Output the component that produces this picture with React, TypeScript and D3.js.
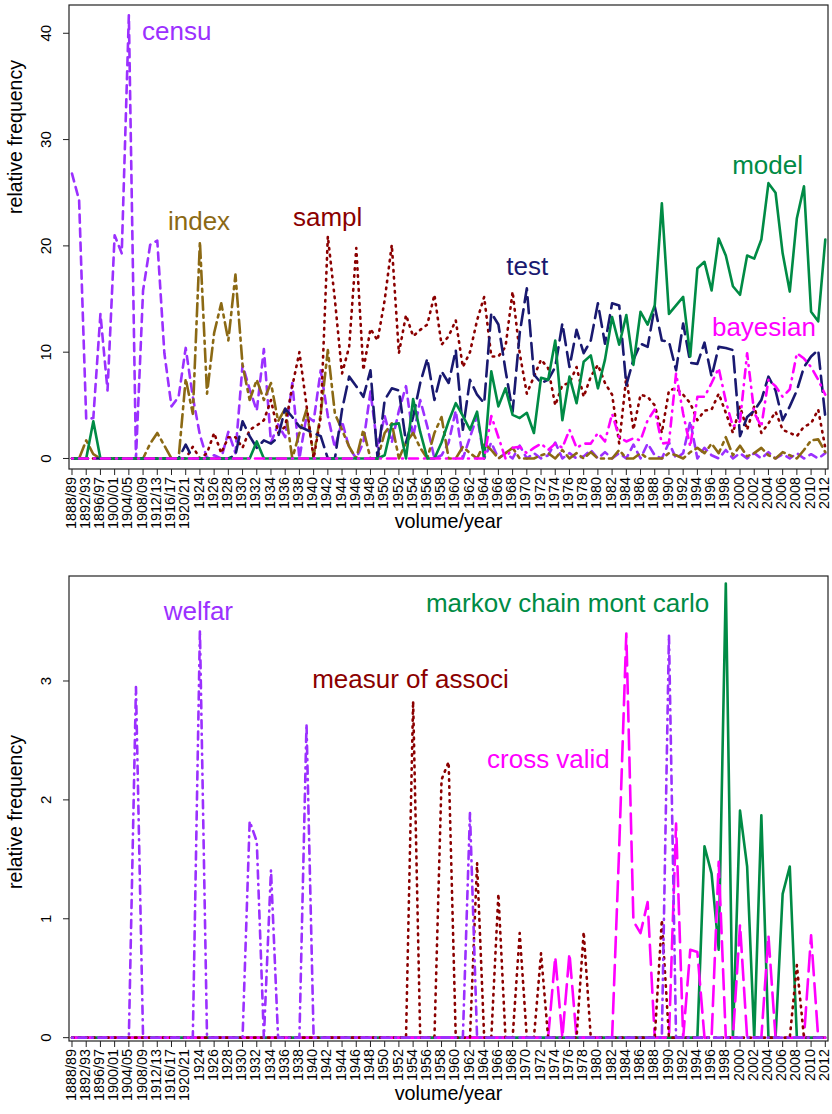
import React from "react";
import * as d3 from "d3";

// volume / year categories (x axis)
const volumes = [
  "1888/89", "1890/91", "1892/93", "1894/95", "1896/97", "1898/99", "1900/01", "1902/03", "1904/05", "1906/07",
  "1908/09", "1910/11", "1912/13", "1914/15", "1916/17", "1918/19", "1920/21", "1922/23", "1924", "1925",
  "1926", "1927", "1928", "1929", "1930", "1931", "1932", "1933", "1934", "1935",
  "1936", "1937", "1938", "1939", "1940", "1941", "1942", "1943", "1944", "1945",
  "1946", "1947", "1948", "1949", "1950", "1951", "1952", "1953", "1954", "1955",
  "1956", "1957", "1958", "1959", "1960", "1961", "1962", "1963", "1964", "1965",
  "1966", "1967", "1968", "1969", "1970", "1971", "1972", "1973", "1974", "1975",
  "1976", "1977", "1978", "1979", "1980", "1981", "1982", "1983", "1984", "1985",
  "1986", "1987", "1988", "1989", "1990", "1991", "1992", "1993", "1994", "1995",
  "1996", "1997", "1998", "1999", "2000", "2001", "2002", "2003", "2004", "2005",
  "2006", "2007", "2008", "2009", "2010", "2011", "2012",
];

// top panel
const censu = [
  26.8, 24.3, 3.7, 3.8, 13.6, 6.4, 21.0, 19.3, 41.7, 0,
  15.8, 20.1, 20.5, 9.9, 4.9, 5.8, 10.4, 5.8, 2.2, 0,
  0.3, 0, 2.5, 0.5, 8.8, 6.5, 4.5, 10.3, 1.5, 3.2,
  2.0, 7.1, 0, 4.0, 3.5, 8.3, 4.0, 1.0, 3.5, 1.0,
  0, 1.5, 6.3, 1.0, 4.0, 1.5, 4.5, 6.8, 2.0, 5.5,
  3.0, 0, 0.3, 1.5, 4.5, 0, 2.0, 4.0, 0, 1.5,
  0, 0.5, 0, 1.2, 0, 0.5, 0, 0.3, 1.5, 0,
  0.5, 0, 0.2, 0.8, 0, 0.6, 0, 0.5, 0, 1.3,
  0, 1.4, 0.3, 0, 1.5, 0, 0.5, 3.5, 0, 1.0,
  0.3, 0, 0.8, 0, 0.5, 0, 0.5, 0, 0.6, 0,
  0.4, 0, 0.5, 0, 0.4, 0, 0.5,
];
const index = [
  0, 0, 1.7, 0.4, 0, 0, 0, 0, 0, 0,
  0, 1.4, 2.4, 1.2, 0, 0, 7.5, 4.2, 20.4, 6.1,
  11.8, 14.6, 11.1, 17.3, 8.8, 5.5, 7.4, 5.5, 7.1, 3.5,
  4.7, 0, 2.4, 4.6, 0.2, 4.2, 10.2, 4.2, 2.7, 1.1,
  0, 2.7, 0, 0, 2.4, 3.3, 0, 1.5, 2.4, 1.0,
  0, 2.4, 3.9, 0, 0, 1.1, 0.5, 0, 1.4, 0.8,
  0, 0.5, 1.0, 0, 0, 0, 0.3, 0.5, 0, 0.8,
  0, 0.5, 0, 0.6, 0, 0, 0, 0.8, 0, 0,
  0.5, 0, 0, 0, 0.5, 0.3, 0, 0.6, 1.0, 0.5,
  1.4, 0.5, 2.0, 0.3, 1.2, 0.2, 0.5, 1.0, 0.3, 0,
  0.6, 0.3, 0, 0.8, 1.7, 1.8, 0.6,
];
const sampl = [
  0, 0, 0, 0, 0, 0, 0, 0, 0, 0,
  0, 0, 0, 0, 0, 0, 0, 1.1, 0, 0.5,
  2.4, 0.5, 2.0, 2.0, 1.0, 2.7, 3.1, 3.6, 5.5, 2.4,
  3.0, 6.8, 10.0, 5.0, 0, 3.9, 20.9, 14.9, 8.0, 10.5,
  19.8, 8.3, 12.2, 11.1, 14.9, 20.1, 9.9, 13.5, 11.5, 12.1,
  12.6, 15.4, 10.7, 11.5, 13.0, 8.6, 10.0, 13.0, 15.2, 9.6,
  9.6, 10.5, 15.7, 9.9, 6.1, 7.7, 9.3, 8.5, 5.0, 6.9,
  7.1, 8.6, 5.8, 7.7, 8.8, 7.1, 6.0, 1.4, 7.7, 2.7,
  6.0, 5.8, 5.0, 2.4, 6.4, 6.6, 6.0, 5.2, 3.6, 4.5,
  4.6, 6.1, 4.3, 2.4, 4.9, 2.7, 4.9, 2.4, 3.3, 4.4,
  2.7, 2.4, 2.1, 3.0, 3.3, 4.6, 1.0,
];
const test = [
  0, 0, 0, 0, 0, 0, 0, 0, 0, 0,
  0, 0, 0, 0, 0, 0, 1.3, 0, 0, 0,
  0, 0, 0, 0.3, 3.5, 2.1, 1.0, 1.7, 1.4, 2.0,
  4.7, 3.9, 3.0, 2.7, 2.4, 2.1, 0, 0, 4.6, 7.7,
  6.8, 5.8, 8.3, 0, 5.5, 6.6, 6.4, 1.5, 3.9, 7.1,
  9.4, 5.5, 8.2, 7.1, 10.2, 2.7, 7.4, 6.0, 5.2, 13.7,
  12.6, 8.3, 4.4, 11.8, 16.0, 7.9, 7.1, 7.4, 8.6, 12.7,
  8.6, 12.1, 9.9, 11.1, 14.6, 10.8, 14.6, 14.4, 6.9, 9.3,
  10.8, 10.5, 14.3, 11.1, 11.0, 8.3, 12.7, 9.0, 8.9, 10.9,
  7.7, 10.5, 10.4, 10.2, 2.1, 3.9, 4.5, 5.5, 7.7, 6.4,
  3.6, 4.9, 6.4, 8.6, 9.6, 10.2, 3.9,
];
const model = [
  0, 0, 0, 3.5, 0, 0, 0, 0, 0, 0,
  0, 0, 0, 0, 0, 0, 0, 0, 0, 0,
  0, 0, 0, 0, 0, 0, 1.6, 0, 0, 0,
  0, 0, 0, 0, 0, 0, 0, 0, 0, 0,
  0, 0, 0, 0, 0.3, 3.2, 3.3, 0, 5.6, 2.5,
  0, 0, 1.5, 3.5, 5.2, 4.0, 2.7, 4.4, 0, 8.2,
  4.9, 6.6, 4.1, 3.8, 4.3, 2.4, 7.6, 7.4, 11.1, 3.6,
  7.7, 5.2, 9.1, 9.7, 6.6, 9.3, 13.3, 10.7, 13.5, 8.8,
  13.8, 12.6, 14.4, 24.0, 13.6, 14.4, 15.2, 9.6, 17.9, 18.5,
  15.8, 20.7, 19.1, 16.2, 15.4, 19.1, 18.8, 20.6, 25.9, 25.0,
  19.3, 15.7, 22.6, 25.6, 13.8, 12.9, 20.6,
];
const bayesian = [
  0, 0, 0, 0, 0, 0, 0, 0, 0, 0,
  0, 0, 0, 0, 0, 0, 0, 0, 0, 0,
  0, 0, 0, 0, 0, 0, 0, 0, 0, 0,
  0, 0, 0, 0, 0, 0, 0, 0, 0, 0,
  0, 0, 0, 0, 0, 0, 0, 0, 0, 0,
  0, 0, 0, 0, 0, 0, 0, 0, 0, 4.0,
  2.0, 0, 1.0, 1.1, 0.5, 1.0, 1.4, 0.8, 1.4, 1.0,
  2.7, 1.0, 1.4, 1.4, 2.4, 1.6, 4.2, 2.0, 1.6, 1.9,
  1.7, 3.6, 4.6, 1.4, 1.5, 8.0, 4.2, 1.1, 5.8, 5.8,
  7.1, 8.5, 5.4, 3.0, 3.5, 9.9, 4.3, 3.0, 7.4, 6.8,
  5.8, 6.5, 9.9, 9.4, 8.6, 7.4, 6.0,
];

// bottom panel
const welfar = [
  0, 0, 0, 0, 0, 0, 0, 0, 0, 2.95,
  0, 0, 0, 0, 0, 0, 0, 0, 3.43, 0,
  0, 0, 0, 0, 0, 1.82, 1.65, 0, 1.41, 0,
  0, 0, 0, 2.64, 0, 0, 0, 0, 0, 0,
  0, 0, 0, 0, 0, 0, 0, 0, 0, 0,
  0, 0, 0, 0, 0, 0, 1.89, 0, 0, 0,
  0, 0, 0, 0, 0, 0, 0, 0, 0, 0,
  0, 0, 0, 0, 0, 0, 0, 0, 0, 0,
  0, 0, 0, 0, 3.39, 0, 0, 0, 0, 0,
  0, 0, 0, 0, 0, 0, 0, 0, 0, 0,
  0, 0, 0, 0, 0, 0, 0,
];
const measurOfAssoci = [
  0, 0, 0, 0, 0, 0, 0, 0, 0, 0,
  0, 0, 0, 0, 0, 0, 0, 0, 0, 0,
  0, 0, 0, 0, 0, 0, 0, 0, 0, 0,
  0, 0, 0, 0, 0, 0, 0, 0, 0, 0,
  0, 0, 0, 0, 0, 0, 0, 0, 2.83, 0,
  0, 0, 2.17, 2.32, 0, 0, 0, 1.47, 0, 0,
  1.21, 0, 0, 0.88, 0, 0, 0.71, 0, 0, 0,
  0, 0, 0.89, 0, 0, 0, 0, 0, 0, 0,
  0, 0, 0, 0.99, 0, 0, 0, 0, 0, 0,
  0, 0, 0, 0, 0, 0, 0, 0, 0, 0,
  0, 0, 0.61, 0, 0, 0, 0,
];
const crossValid = [
  0, 0, 0, 0, 0, 0, 0, 0, 0, 0,
  0, 0, 0, 0, 0, 0, 0, 0, 0, 0,
  0, 0, 0, 0, 0, 0, 0, 0, 0, 0,
  0, 0, 0, 0, 0, 0, 0, 0, 0, 0,
  0, 0, 0, 0, 0, 0, 0, 0, 0, 0,
  0, 0, 0, 0, 0, 0, 0, 0, 0, 0,
  0, 0, 0, 0, 0, 0, 0, 0, 0.68, 0,
  0.71, 0, 0, 0, 0, 0, 0, 1.6, 3.40, 0.98,
  0.88, 1.14, 0, 0, 0, 1.8, 0, 0.74, 0.72, 0,
  0, 1.48, 0, 0, 0.95, 0, 0, 0, 0.86, 0,
  0, 0, 0, 0, 0.86, 0, 0,
];
const markovChainMontCarlo = [
  0, 0, 0, 0, 0, 0, 0, 0, 0, 0,
  0, 0, 0, 0, 0, 0, 0, 0, 0, 0,
  0, 0, 0, 0, 0, 0, 0, 0, 0, 0,
  0, 0, 0, 0, 0, 0, 0, 0, 0, 0,
  0, 0, 0, 0, 0, 0, 0, 0, 0, 0,
  0, 0, 0, 0, 0, 0, 0, 0, 0, 0,
  0, 0, 0, 0, 0, 0, 0, 0, 0, 0,
  0, 0, 0, 0, 0, 0, 0, 0, 0, 0,
  0, 0, 0, 0, 0, 0, 0, 0, 0, 1.61,
  1.38, 0.74, 3.82, 0, 1.91, 1.44, 0, 1.87, 0, 0,
  1.21, 1.44, 0, 0, 0, 0, 0,
];

const topTicks = [0, 10, 20, 30, 40];
const bottomTicks = [0, 1, 2, 3];

const FONT = "'Liberation Sans', Arial, Helvetica, sans-serif";

// line styles (R-like lty at lwd ~2.6, round caps)
const topSeries = [
  { name: "censu", values: censu, color: "#9B30FF", dash: "8,6", label: [9.85, 39.4] },
  { name: "index", values: index, color: "#8B6914", dash: "3,5,13,5", label: [13.5, 21.5] },
  { name: "sampl", values: sampl, color: "#8B0000", dash: "1.5,5.5", label: [31.1, 21.9] },
  { name: "test", values: test, color: "#191970", dash: "16,7", label: [61.1, 17.3] },
  { name: "model", values: model, color: "#008B45", dash: null, label: [92.9, 26.8] },
  { name: "bayesian", values: bayesian, color: "#FF00FF", dash: "1,6,9,6", label: [90.05, 11.5] },
];
const bottomSeries = [
  { name: "markov chain mont carlo", values: markovChainMontCarlo, color: "#008B45", dash: null, label: [49.8, 3.58] },
  { name: "cross valid", values: crossValid, color: "#FF00FF", dash: "20,8", label: [58.4, 2.27] },
  { name: "measur of associ", values: measurOfAssoci, color: "#8B0000", dash: "1.5,5.5", label: [33.8, 2.94] },
  { name: "welfar", values: welfar, color: "#9B30FF", dash: "1,5.5,8,5.5", label: [12.9, 3.51] },
];

function Panel({ top, bottom, yDomain, yTicks, series, yTitleY }) {
  const x = d3.scaleLinear().domain([-0.422, 106.38]).range([69, 828]);
  const y = d3.scaleLinear().domain(yDomain).range([bottom, top]);
  const line = d3
    .line<number>()
    .x((_, i) => x(i))
    .y((d) => y(d));

  return (
    <g>
      {series.map((s) => (
        <path
          key={s.name}
          d={line(s.values) || ""}
          fill="none"
          stroke={s.color}
          strokeWidth={2.6}
          strokeDasharray={s.dash || undefined}
          strokeLinecap="round"
          strokeLinejoin="round"
        />
      ))}
      {series.map((s) => (
        <text key={s.name + "-lab"} x={x(s.label[0])} y={y(s.label[1])} fill={s.color} fontSize={26}>
          {s.name}
        </text>
      ))}
      <rect x={69} y={top} width={759} height={bottom - top} fill="none" stroke="#222" strokeWidth={1.2} />

      {/* y axis */}
      {yTicks.map((t) => (
        <g key={t}>
          <line x1={63} x2={69} y1={y(t)} y2={y(t)} stroke="#222" strokeWidth={1} />
          <text transform={`translate(51,${y(t)}) rotate(-90)`} textAnchor="middle" fontSize={15}>
            {t}
          </text>
        </g>
      ))}
      <text transform={`translate(22,${yTitleY}) rotate(-90)`} textAnchor="middle" fontSize={19.5}>
        relative frequency
      </text>

      {/* x axis */}
      {volumes.map((v, i) =>
        i % 2 === 0 ? (
          <g key={v}>
            <line x1={x(i)} x2={x(i)} y1={bottom} y2={bottom + 6} stroke="#222" strokeWidth={1} />
            <text transform={`translate(${x(i) + 3.6},${bottom + 8}) rotate(-90)`} textAnchor="end" fontSize={14.4}>
              {v}
            </text>
          </g>
        ) : null
      )}
      <text x={448.5} y={bottom + 59} textAnchor="middle" fontSize={19.8}>
        volume/year
      </text>
    </g>
  );
}

export default function App() {
  return (
    <svg
      width={832}
      height={1114}
      style={{ position: "absolute", left: 0, top: 0, background: "#fff" }}
      fontFamily={FONT}
    >
      <rect width={832} height={1114} fill="#fff" />
      <Panel top={5} bottom={469} yDomain={[-0.99, 42.66]} yTicks={topTicks} series={topSeries} yTitleY={137} />
      <Panel top={576} bottom={1041} yDomain={[-0.028, 3.883]} yTicks={bottomTicks} series={bottomSeries} yTitleY={812} />
    </svg>
  );
}
